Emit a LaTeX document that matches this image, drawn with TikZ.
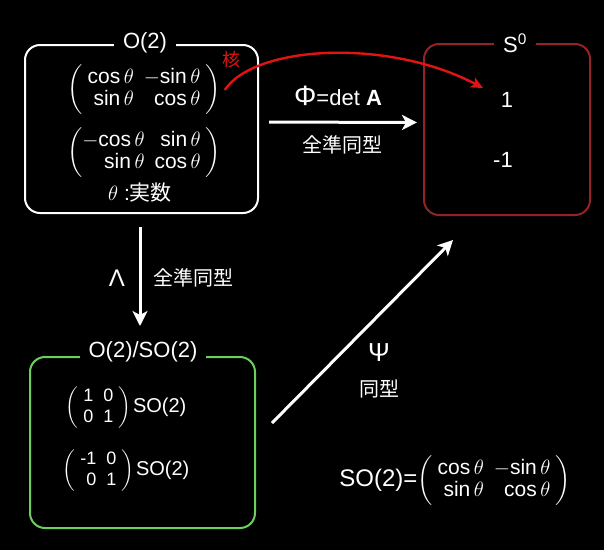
\documentclass[tikz,border=0pt]{standalone}
\usepackage{amsmath}
\usepackage{fontspec}
\setmainfont{Liberation Sans}
\newfontfamily\jp{Noto Sans CJK JP}
\usetikzlibrary{arrows.meta}
\definecolor{boxred}{RGB}{150,35,35}
\definecolor{curvered}{RGB}{225,20,20}
\definecolor{boxgreen}{RGB}{110,205,95}
\newcommand{\fs}[2]{\fontsize{#1}{#2}\selectfont}
\newcommand{\mcos}{\text{cos}\,\theta}
\newcommand{\msin}{\text{sin}\,\theta}
\newcommand{\tx}[1]{\text{#1}}
\tikzset{
  every node/.style={text=white, inner sep=0pt},
  frame/.style={draw, line width=2pt, rounded corners=15pt, minimum width=#1},
  boxtitle/.style={fill=black, inner xsep=9pt, inner ysep=2pt, font=\fs{22}{24}},
  arr/.style={draw=white, line width=3pt, -{Stealth[length=15pt, width=15pt, inset=4pt]}},
  redarr/.style={draw=curvered, line width=2.4pt, -{Stealth[length=12pt, width=11pt, inset=3pt]}},
}
\begin{document}
\begin{tikzpicture}[x=1pt, y=-1pt]
\fill[black] (0,0) rectangle (604,550);
\useasboundingbox (0,0) rectangle (604,550);

% boxes
\node[frame=233, draw=white, minimum height=168] (b1) at (141.5,129) {};
\node[frame=166, draw=boxred, minimum height=171] (b2) at (507,129.5) {};
\node[frame=225, draw=boxgreen, minimum height=171] (b3) at (142.5,442.5) {};

% titles
\node[boxtitle] (t1) at (145,43) {O(2)};
\node[boxtitle] (t2) at (515,43) {S\textsuperscript{0}};
\node[boxtitle] (t3) at (143,352) {O(2)/SO(2)};

% O(2) content
\node (m1) at (144,90) {\fs{21}{22}$\left(\begin{array}{rr}\mcos & -\msin\\ \msin & \mcos\end{array}\right)$};
\node (m2) at (144,153) {\fs{21}{22}$\left(\begin{array}{@{}rr}-\mcos & \msin\\ \msin & \mcos\end{array}\right)$};
\node (th) at (140,193) {\fs{21}{22}$\theta$ :{\jp 実数}};
\node[text=curvered] (kaku) at (231,60) {\fs{18}{20}\jp 核};

% S0 content
\node (one) at (507,100) {\fs{22}{24}1};
\node (mone) at (503,160) {\fs{22}{24}-1};

% O(2)/SO(2) content
\node (g1) at (126,408) {\fs{18}{21}$\left(\begin{array}{rr}\tx{1} & \tx{0}\\ \tx{0} & \tx{1}\end{array}\right)$\hspace{2pt}{\fs{20}{22}SO(2)}};
\node (g2) at (126,471) {\fs{18}{21}$\left(\begin{array}{rr}\tx{-1} & \tx{0}\\ \tx{0} & \tx{1}\end{array}\right)$\hspace{2pt}{\fs{20}{22}SO(2)}};

% SO(2) definition
\node (so) at (455,481) {\fs{24}{24}SO(2)=\fs{21}{22}$\left(\begin{array}{rr}\mcos & -\msin\\ \msin & \mcos\end{array}\right)$};

% arrow Phi
\draw[arr, shorten <=10pt, shorten >=6pt] ([yshift=7pt]b1.east) -- ([yshift=7pt]b2.west);
\node (phi) at (338,96) {\fs{22}{24}{\fs{28}{28}Φ}=det \textbf{A}};
\node (phil) at (342,145) {\fs{20}{22}\jp 全準同型};

% arrow Lambda
\draw[arr, shorten <=13pt, shorten >=30pt] ([xshift=-1.5pt]b1.south) -- ([xshift=-1.5pt]b1.south |- b3.north);
\node (lam) at (117,278) {\fs{24}{24}Λ};
\node (laml) at (193,278) {\fs{20}{22}\jp 全準同型};

% arrow Psi
\coordinate (psiS) at (272,423);
\coordinate (psiE) at (453,240);
\draw[arr] (psiS) -- (psiE);
\node (psi) at (379,353) {\fs{26}{26}Ψ};
\node (psil) at (379,389) {\fs{20}{22}\jp 同型};

% red kernel curve
\coordinate (kt) at (483,88);
\draw[redarr] ([xshift=4pt]m1.east) .. controls +(30,-45) and +(-95,-50) .. (kt);
\end{tikzpicture}
\end{document}
